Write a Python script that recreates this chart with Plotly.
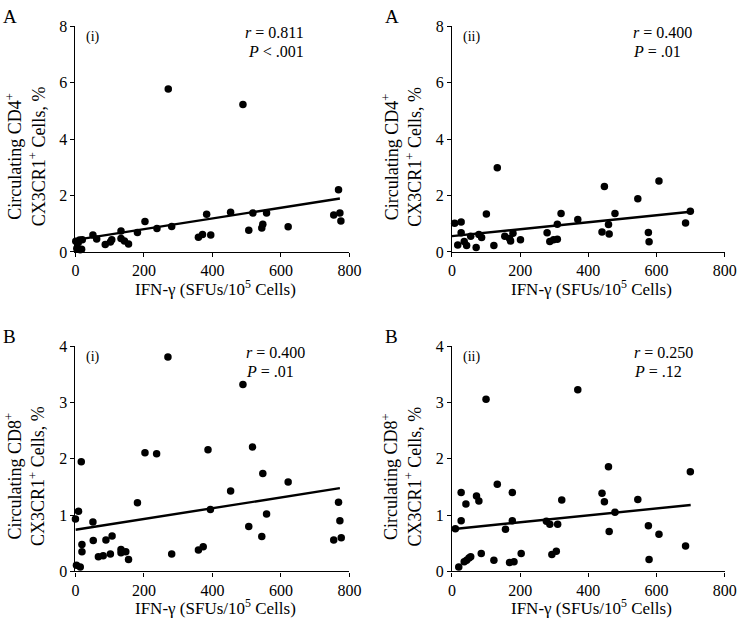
import plotly.graph_objects as go

W, H = 750, 631

# ---------------- data ----------------
x_a1 = [1, 4, 8, 12, 14, 18, 20, 51, 62, 87, 102, 106, 133, 133, 143, 155, 181, 203, 238, 271, 281,
        359, 371, 383, 395, 453, 489, 506, 518, 544, 547, 558, 621, 754, 768, 772, 775]
y_a1 = [0.38, 0.12, 0.33, 0.42, 0.08, 0.10, 0.43, 0.60, 0.46, 0.26, 0.35, 0.43, 0.74, 0.48, 0.39, 0.28,
        0.69, 1.08, 0.83, 5.78, 0.90, 0.52, 0.62, 1.34, 0.60, 1.41, 5.23, 0.77, 1.38, 0.85, 0.98, 1.38,
        0.89, 1.31, 2.21, 1.38, 1.10]

x_a2 = [8, 27, 27, 17, 36, 43, 55, 71, 79, 87, 101, 123, 133, 155, 169, 172, 179, 201, 279, 287, 298,
        309, 309, 320, 369, 440, 447, 459, 461, 478, 545, 576, 578, 607, 685, 699]
y_a2 = [1.02, 1.06, 0.68, 0.25, 0.37, 0.23, 0.56, 0.16, 0.62, 0.51, 1.35, 0.23, 2.99, 0.56, 0.48, 0.39,
        0.66, 0.43, 0.68, 0.37, 0.43, 0.45, 0.98, 1.36, 1.15, 0.71, 2.32, 0.97, 0.64, 1.36, 1.89, 0.69,
        0.36, 2.52, 1.03, 1.44]

x_b1 = [0, 3, 9, 14, 17, 19, 19, 51, 52, 67, 81, 89, 102, 107, 133, 133, 147, 155, 181, 203, 237, 270,
        281, 359, 373, 387, 394, 453, 489, 506, 517, 544, 547, 558, 621, 754, 768, 772, 776]
y_b1 = [0.93, 0.11, 1.07, 0.08, 1.95, 0.48, 0.35, 0.88, 0.55, 0.26, 0.28, 0.56, 0.31, 0.63, 0.39, 0.33,
        0.35, 0.21, 1.22, 2.11, 2.09, 3.81, 0.31, 0.38, 0.44, 2.16, 1.10, 1.43, 3.32, 0.80, 2.21, 0.62,
        1.74, 1.02, 1.59, 0.56, 1.23, 0.90, 0.60]

x_b2 = [10, 27, 27, 20, 41, 36, 43, 50, 55, 72, 79, 86, 100, 123, 133, 157, 169, 177, 177, 182, 203,
        277, 287, 293, 306, 310, 322, 369, 440, 447, 459, 461, 478, 545, 576, 578, 607, 685, 699]
y_b2 = [0.76, 1.40, 0.90, 0.08, 1.20, 0.17, 0.20, 0.24, 0.26, 1.34, 1.25, 0.32, 3.06, 0.20, 1.55, 0.75,
        0.16, 1.40, 0.90, 0.17, 0.32, 0.89, 0.84, 0.30, 0.36, 0.84, 1.27, 3.23, 1.39, 1.24, 1.86, 0.71,
        1.05, 1.28, 0.81, 0.21, 0.66, 0.45, 1.77]

# regression lines: (intercept, slope, last x)
fit_a1 = (0.43, 0.00190, 772)
fit_a2 = (0.56, 0.00124, 700)
fit_b1 = (0.74, 0.000958, 772)
fit_b2 = (0.75, 0.000615, 700)

panel_tags = ["(i)", "(ii)", "(i)", "(ii)"]
row_letters = ["A", "A", "B", "B"]
stats_r = ["0.811", "0.400", "0.400", "0.250"]
stats_p = ["<i>P</i> < .001", "<i>P</i> = .01", "<i>P</i> = .01", "<i>P</i> = .12"]
x_ticks = [0, 200, 400, 600, 800]
y_ticks_top = [0, 2, 4, 6, 8]
y_ticks_bot = [0, 1, 2, 3, 4]
y_titles = ["Circulating CD4<sup>+</sup><br>CX3CR1<sup>+</sup> Cells, %",
            "Circulating CD4<sup>+</sup><br>CX3CR1<sup>+</sup> Cells, %",
            "Circulating CD8<sup>+</sup><br>CX3CR1<sup>+</sup> Cells, %",
            "Circulating CD8<sup>+</sup><br>CX3CR1<sup>+</sup> Cells, %"]
x_title = "IFN-γ (SFUs/10<sup>5</sup> Cells)"

# ---------------- layout helpers ----------------
FONT = "Liberation Serif"

def px(x):
    return x / W

def py(y):
    return 1 - y / H

# pixel boxes of the four plot areas: (left, right, top, bottom)
boxes = [(73, 353, 19, 250.7), (457.7, 736.5, 19, 250.7),
         (73, 353, 347.7, 579), (457.7, 736.5, 347.7, 579)]

series = [(x_a1, y_a1, fit_a1, 8), (x_a2, y_a2, fit_a2, 8),
          (x_b1, y_b1, fit_b1, 4), (x_b2, y_b2, fit_b2, 4)]

fig = go.Figure()
layout = dict(width=W, height=H, margin=dict(l=0, r=0, t=0, b=0),
              paper_bgcolor="white", plot_bgcolor="white", showlegend=False,
              font=dict(family=FONT, color="black", size=16))
annotations = []

for i, ((xs, ys, fit, ymax), box) in enumerate(zip(series, boxes)):
    n = i + 1
    xa = "x" if n == 1 else f"x{n}"
    ya = "y" if n == 1 else f"y{n}"
    b0, b1 = fit[0], fit[1]
    fig.add_trace(go.Scatter(x=[0, fit[2]], y=[b0, b0 + b1 * fit[2]], mode="lines",
                             line=dict(color="black", width=2.4), xaxis=xa, yaxis=ya,
                             hoverinfo="skip"))
    fig.add_trace(go.Scatter(x=xs, y=ys, mode="markers", cliponaxis=False,
                             marker=dict(color="black", size=7.5), xaxis=xa, yaxis=ya))
    l, r, t, b = box
    axis_common = dict(showgrid=False, zeroline=False, showline=True, linecolor="black",
                       linewidth=1.2, ticks="outside", ticklen=4, tickcolor="black",
                       tickfont=dict(family=FONT, size=16, color="black"))
    layout["xaxis" if n == 1 else f"xaxis{n}"] = dict(
        domain=[px(l), px(r)], range=[0, 800], tickvals=x_ticks, anchor=ya,
        **axis_common)
    layout["yaxis" if n == 1 else f"yaxis{n}"] = dict(
        domain=[py(b), py(t)], range=[0, ymax],
        tickvals=y_ticks_top if ymax == 8 else y_ticks_bot, anchor=xa, **axis_common)

    # y title
    annotations.append(dict(x=px(l - 51), y=py((t + b) / 2 + 18), xref="paper", yref="paper",
                            text=y_titles[i], textangle=-90, showarrow=False,
                            font=dict(family=FONT, size=18), xanchor="center", yanchor="middle"))
    # x title
    annotations.append(dict(x=px((l + r) / 2 + 3), y=py(b + 37), xref="paper", yref="paper",
                            text=x_title, showarrow=False, font=dict(family=FONT, size=17),
                            xanchor="center", yanchor="middle"))
    # row letter
    annotations.append(dict(x=px(l - 76 if n % 2 == 1 else l - 70), y=py(t - 10), xref="paper",
                            yref="paper", text=row_letters[i], showarrow=False,
                            font=dict(family=FONT, size=19), xanchor="left", yanchor="middle"))
    # panel tag
    annotations.append(dict(x=px(l + 9), y=py(t + 11), xref="paper", yref="paper",
                            text=panel_tags[i], showarrow=False, font=dict(family=FONT, size=14),
                            xanchor="left", yanchor="middle"))
    # stats
    if n == 1:
        sx, anchor = px(l + 236), "right"
    elif n == 2:
        sx, anchor = px(l + 183), "left"
    else:
        sx, anchor = px(l + (172 if n == 3 else 184)), "left"
    annotations.append(dict(x=sx, y=py(t + 6), xref="paper", yref="paper",
                            text="<i>r</i> = " + stats_r[i], showarrow=False,
                            font=dict(family=FONT, size=16), xanchor=anchor, yanchor="middle"))
    annotations.append(dict(x=sx, y=py(t + 26), xref="paper", yref="paper",
                            text=stats_p[i], showarrow=False,
                            font=dict(family=FONT, size=16), xanchor=anchor, yanchor="middle"))

layout["annotations"] = annotations
fig.update_layout(**layout)
fig.write_html("out.html", config={"displayModeBar": False},
               post_script="document.body.style.margin='0';document.body.style.overflow='hidden';")
